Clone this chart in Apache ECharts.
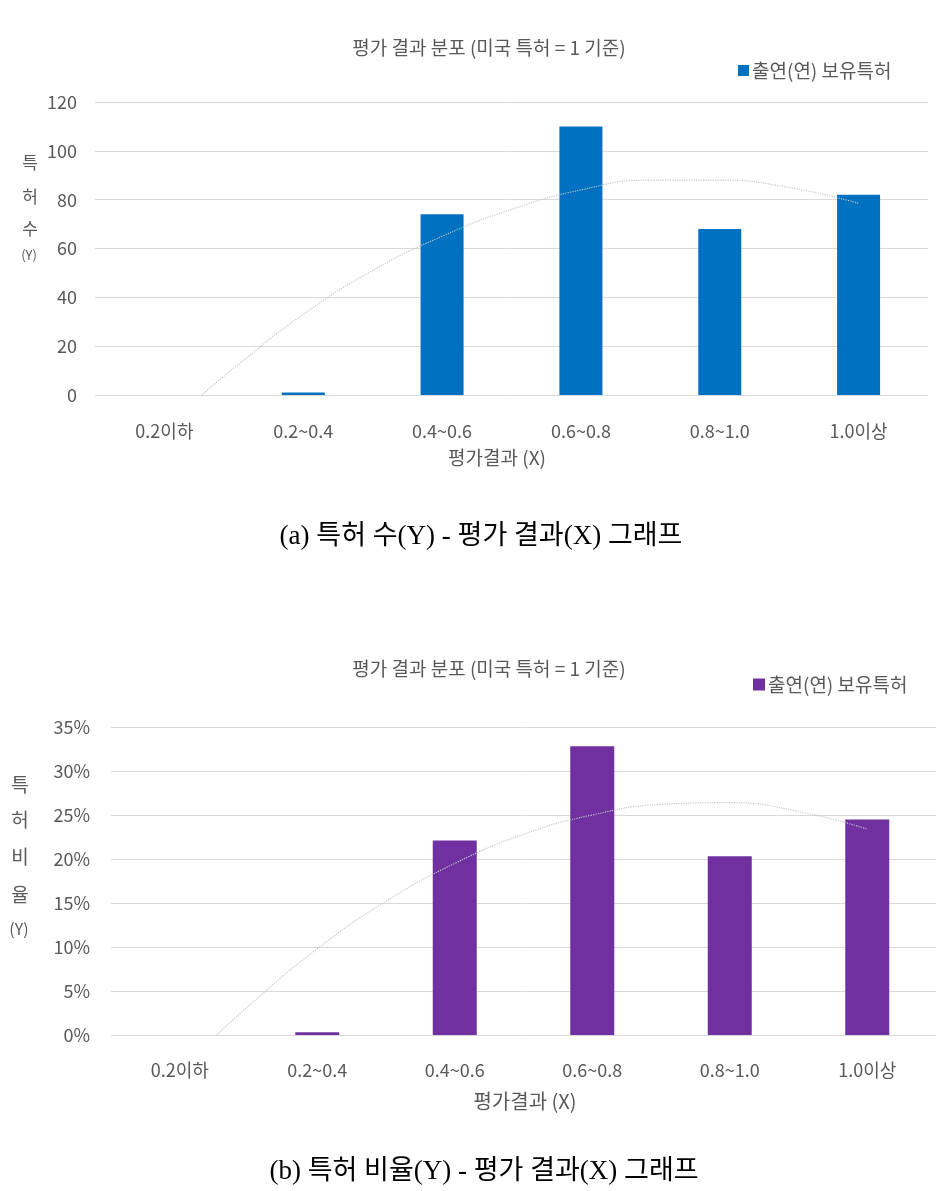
<!DOCTYPE html>
<html>
<head>
<meta charset="utf-8">
<script src="https://cdn.jsdelivr.net/npm/echarts@6/dist/echarts.min.js"></script>
<style>
html,body{margin:0;padding:0;background:#fff;}
#c{width:949px;height:1191px;}
</style>
</head>
<body>
<div id="c"></div>
<script>
// ---- data ----
const categories = ['0.2이하', '0.2~0.4', '0.4~0.6', '0.6~0.8', '0.8~1.0', '1.0이상'];
const patentCounts = [0, 1, 74, 110, 68, 82];
const patentShares = [0, 0.3, 22.1, 32.8, 20.3, 24.5];
// trend line points: [category position (1..6), value]
const countTrend = [[1.27, 0], [1.5, 11], [2, 33], [2.5, 51], [3, 65], [3.5, 76], [4, 84], [4.5, 88], [5, 88], [5.5, 85], [6, 78.5]];
const shareTrend = [[1.27, 0], [1.5, 3.3], [2, 9.8], [2.5, 15.2], [3, 19.5], [3.5, 22.8], [4, 25.0], [4.5, 26.2], [5, 26.4], [5.5, 25.4], [6, 23.4]];
const countTicks = [0, 120, 20];
const shareTicks = [0, 35, 5];
const seriesName = '출연(연) 보유특허';
const chartTitle = '평가 결과 분포 (미국 특허 = 1 기준)';
const xName = '평가결과 (X)';
const captionA = '(a) 특허 수(Y) - 평가 결과(X) 그래프';
const captionB = '(b) 특허 비율(Y) - 평가 결과(X) 그래프';
const yNameA = ['특', '허', '수', '(Y)'];
const yNameB = ['특', '허', '비', '율', '(Y)'];

const FONT = "'Noto Sans CJK KR', 'Noto Sans', sans-serif";
const SERIF = "'Liberation Serif', 'DejaVu Serif', 'Noto Sans CJK KR', serif";
const GRAY = '#595959';

const chart = echarts.init(document.getElementById('c'), null, {renderer: 'canvas'});

const grids = [
  {left: 95, top: 102, width: 833, height: 293},
  {left: 111, top: 727, width: 825, height: 308}
];

function catAxis(gi, margin, fs) {
  return {
    type: 'category', gridIndex: gi, data: categories,
    axisLine: {show: false}, axisTick: {show: false},
    axisLabel: {color: GRAY, fontSize: fs, fontFamily: FONT, margin: margin}
  };
}
function trendAxis(gi) {
  return {type: 'value', gridIndex: gi, min: 0.5, max: 6.5, show: false};
}
function valAxis(gi, ticks, fmt, margin, fs) {
  return {
    type: 'value', gridIndex: gi, min: ticks[0], max: ticks[1], interval: ticks[2],
    axisLine: {show: false}, axisTick: {show: false},
    splitLine: {lineStyle: {color: '#d9d9d9', width: 1}},
    axisLabel: {color: GRAY, fontSize: fs, fontFamily: FONT, margin: margin, formatter: fmt}
  };
}

const graphics = [];
function txt(x, y, s, fs, font, color, align) {
  graphics.push({type: 'text', x: x, y: y, style: {text: s, fontSize: fs, fontFamily: font, fill: color, align: align || 'center', verticalAlign: 'middle'}});
}
// y-axis names (vertical stacked)
[163, 197, 229].forEach((y, i) => txt(30, y, yNameA[i], 17, FONT, GRAY));
txt(29, 255, yNameA[3], 13, FONT, GRAY);
[785, 820, 857, 895].forEach((y, i) => txt(20, y, yNameB[i], 19, FONT, GRAY));
txt(19, 929, yNameB[4], 16, FONT, GRAY);
// x-axis names
txt(497, 458, xName, 19, FONT, GRAY);
txt(525, 1101, xName, 20, FONT, GRAY);
// captions
txt(481, 537, captionA, 27, SERIF, '#000');
txt(484, 1172, captionB, 27, SERIF, '#000');

const trendStyle = {color: '#c6c6c6', width: 1.2, type: 'dotted'};

chart.setOption({
  animation: false,
  backgroundColor: '#fff',
  title: [
    {text: chartTitle, left: 484, top: 33, textAlign: 'center', textStyle: {fontSize: 19, fontWeight: 'normal', color: GRAY, fontFamily: FONT}},
    {text: chartTitle, left: 484, top: 654, textAlign: 'center', textStyle: {fontSize: 19, fontWeight: 'normal', color: GRAY, fontFamily: FONT}}
  ],
  legend: [
    {data: [seriesName], left: 733, top: 56, icon: 'rect', itemWidth: 11, itemHeight: 11, itemGap: 4,
     textStyle: {color: GRAY, fontSize: 19, fontFamily: FONT, padding: [0,0,0,-2]}, selectedMode: false},
    {data: [seriesName + ' '], left: 748, top: 670, icon: 'rect', itemWidth: 12, itemHeight: 12, itemGap: 4,
     textStyle: {color: GRAY, fontSize: 19, fontFamily: FONT, padding: [0,0,0,-2]}, selectedMode: false,
     formatter: n => n.trim()}
  ],
  grid: grids,
  xAxis: [catAxis(0, 27, 18), catAxis(1, 26, 18), trendAxis(0), trendAxis(1)],
  yAxis: [valAxis(0, countTicks, '{value}', 18, 18), valAxis(1, shareTicks, '{value}%', 21, 18)],
  series: [
    {name: seriesName, type: 'bar', xAxisIndex: 0, yAxisIndex: 0, data: patentCounts, barWidth: 43,
     itemStyle: {color: '#0070C0'}},
    {name: seriesName + ' ', type: 'bar', xAxisIndex: 1, yAxisIndex: 1, data: patentShares, barWidth: 44,
     itemStyle: {color: '#7030A0'}},
    {type: 'line', xAxisIndex: 2, yAxisIndex: 0, data: countTrend, smooth: true, showSymbol: false,
     lineStyle: trendStyle, silent: true, z: 5},
    {type: 'line', xAxisIndex: 3, yAxisIndex: 1, data: shareTrend, smooth: true, showSymbol: false,
     lineStyle: trendStyle, silent: true, z: 5}
  ],
  graphic: graphics
});
</script>
</body>
</html>
